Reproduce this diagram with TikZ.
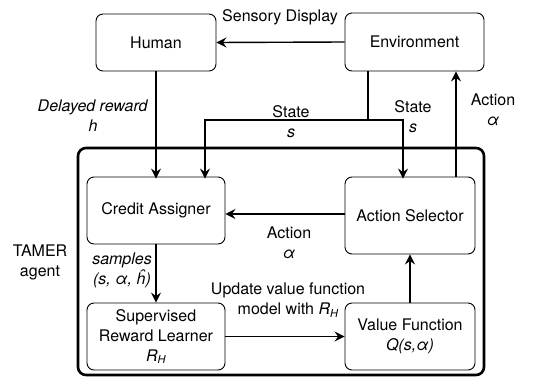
\documentclass[tikz,border=0pt]{standalone}
\usepackage{fontspec}
\setmainfont{TeX Gyre Heros}
\usetikzlibrary{arrows.meta}
\newcommand{\RH}{\textit{R}\raisebox{-0.35ex}{\fontsize{11}{12}\selectfont\textit{H}}}
\begin{document}
\begin{tikzpicture}[x=1pt,y=-1pt,
  font=\fontsize{16}{20}\selectfont,
  box/.style={draw, line width=0.9pt, rounded corners=7pt, align=center, inner sep=0pt},
  arr/.style={line width=1.4pt, -{Stealth[length=10pt,width=10pt,inset=3.5pt]}},
  ln/.style={line width=1.4pt},
  lbl/.style={align=center, inner sep=0pt}]
\useasboundingbox (0,0) rectangle (545,377);
\node[draw, line width=2.6pt, rounded corners=8pt, minimum width=406pt, minimum height=227pt, inner sep=0pt] (agent) at (281,261.5) {};
\node[box, minimum width=120pt, minimum height=57pt] (human) at (156,42.5) {Human};
\node[box, minimum width=139pt, minimum height=58pt] (env) at (414.5,42) {Environment};
\node[box, minimum width=138pt, minimum height=67pt] (credit) at (156,210.5) {Credit Assigner};
\node[box, minimum width=130pt, minimum height=77pt] (as) at (410,215.5) {Action Selector};
\node[box, minimum width=138pt, minimum height=67pt] (srl) at (156,336.5) {Supervised\\Reward Learner\\\RH};
\node[box, minimum width=130pt, minimum height=67pt] (vf) at (410,336.5) {Value Function\\\textit{Q(s,α)}};
\coordinate (sj) at (368,120);
\coordinate (sl) at (205,120);
\coordinate (sr) at (403,120);
\coordinate (ax) at (456,0);
\coordinate (ay) at (0,214);
\draw[arr] (env.west) -- (human.east);
\draw[arr] (human.south) -- ([yshift=-2pt]credit.north);
\draw[ln] (env.south -| sj) -- (sj);
\draw[arr] (sj) -- (sl) -- ([yshift=-2pt]sl |- credit.north);
\draw[arr] (sj) -- (sr) -- ([yshift=-2pt]sr |- as.north);
\draw[arr] (as.north -| ax) -- (env.south -| ax);
\draw[arr] (as.west |- ay) -- (credit.east |- ay);
\draw[arr] (credit.south) -- (srl.north);
\draw[arr] (srl.east) -- (vf.west);
\draw[arr] (vf.north) -- (as.south);
\node[lbl] (sd) at (280,17) {Sensory Display};
\node[lbl] (dr) at (93,116) {\textit{Delayed reward}\\\textit{h}};
\node[lbl] (st1) at (291,121.5) {State\\\textit{s}};
\node[lbl] (st2) at (413,116.5) {State\\\textit{s}};
\node[lbl] (ac1) at (493,110) {Action\\\textit{α}};
\node[lbl] (ac2) at (289,242.5) {Action\\\textit{α}};
\node[lbl] (tam) at (40,262) {TAMER\\agent};
\node[lbl] (smp) at (122,270.5) {\textit{samples}\\\textit{(s, α, ĥ)}};
\node[lbl] (upd) at (288,300) {Update value function\\model with \RH};
\end{tikzpicture}
\end{document}
